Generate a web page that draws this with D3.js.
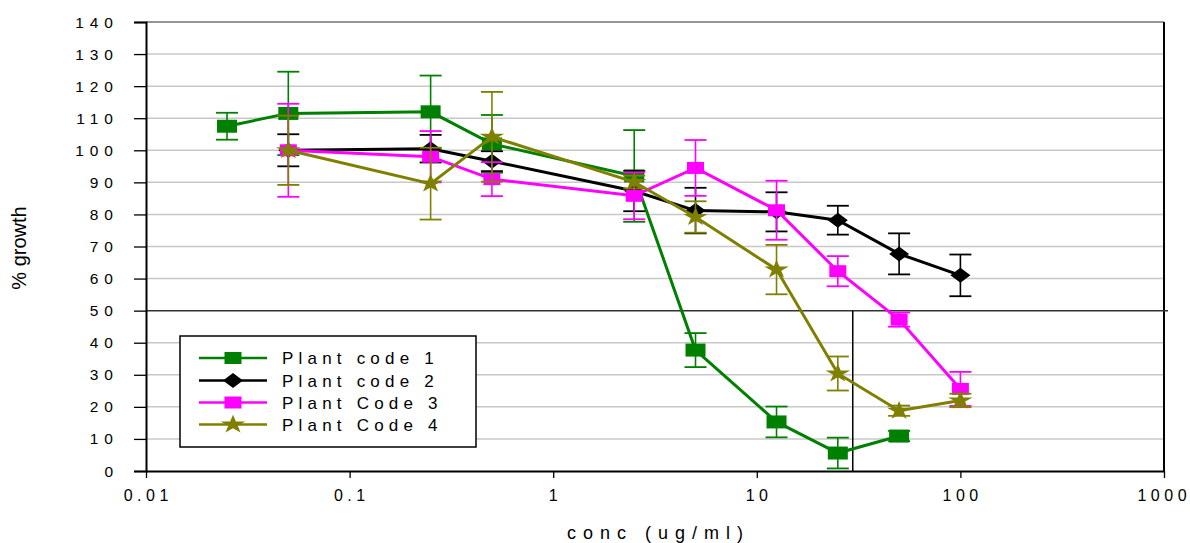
<!DOCTYPE html>
<html><head><meta charset="utf-8">
<script src="https://cdn.jsdelivr.net/npm/d3@7"></script>
<style>
body{margin:0;background:#fff}
text{font-family:"Liberation Sans",Arial,sans-serif;fill:#000}
</style>
</head><body>
<svg id="c" width="1190" height="543"></svg>
<script>
// ---- data ----
const conc = [0.025, 0.05, 0.25, 0.5, 2.5, 5, 12.5, 25, 50, 100];
const seriesNames = ["Plant code 1", "Plant code 2", "Plant Code 3", "Plant Code 4"];
const code1 = [107.5, 111.5, 112, 102, 92, 37.7, 15.3, 5.6, 10.9, null];
const err1  = [4.2, 13, 11.3, 9, 14.3, 5.3, 4.8, 4.8, 1.6, null];
const code2 = [null, 100, 100.5, 96.6, 87.3, 81.2, 80.8, 78.2, 67.7, 61];
const err2  = [null, 5, 4.3, 3.1, 6.3, 7.1, 6.1, 4.5, 6.4, 6.5];
const code3 = [null, 100, 98, 91, 85.8, 94.5, 81.3, 62.3, 47.2, 25.6];
const err3  = [null, 14.5, 8, 5.3, 7.3, 8.7, 9.2, 4.7, 2.2, 5.3];
const code4 = [null, 100, 89.6, 104.2, 90.1, 79.2, 62.8, 30.4, 18.8, 22];
const err4  = [null, 10.8, 11.2, 14, 2, 4.9, 7.7, 5.3, 1.6, 2.1];
const xTicks = [0.01, 0.1, 1, 10, 100, 1000];
const xTickLabels = ["0.01", "0.1", "1", "10", "100", "1000"];
const yTicks = [0, 10, 20, 30, 40, 50, 60, 70, 80, 90, 100, 110, 120, 130, 140];
const refLevel = 50;      // 50% growth line
const refConc = 29.6;     // vertical drop line
const xTitle = "conc (ug/ml)";
const yTitle = "% growth";

const colors = ["#008000", "#000000", "#ff00ff", "#808000"];
const shapes = ["square", "diamond", "square", "star"];
const values = [code1, code2, code3, code4];
const errs = [err1, err2, err3, err4];

// ---- layout ----
const svg = d3.select("#c");
const L = 146, R = 1164, T = 22, B = 471;
const x = d3.scaleLog().domain([0.01, 1000]).range([L, R]);
const y = d3.scaleLinear().domain([0, 140]).range([B, T]);

// gridlines
svg.append("g").selectAll("line").data(yTicks.filter(d => d > 0 && d !== refLevel))
  .join("line").attr("x1", L).attr("x2", R).attr("y1", d => y(d)).attr("y2", d => y(d))
  .attr("stroke", "#c8c8c8").attr("stroke-width", 1.5);
// top border
svg.append("line").attr("x1", L).attr("x2", R).attr("y1", T).attr("y2", T)
  .attr("stroke", "#555").attr("stroke-width", 1.2);
// right border
svg.append("line").attr("x1", R).attr("x2", R).attr("y1", T).attr("y2", B)
  .attr("stroke", "#000").attr("stroke-width", 2);

// reference lines
svg.append("line").attr("x1", L).attr("x2", R + 4).attr("y1", y(refLevel)).attr("y2", y(refLevel))
  .attr("stroke", "#333").attr("stroke-width", 1.5);
svg.append("line").attr("x1", x(refConc)).attr("x2", x(refConc)).attr("y1", y(refLevel)).attr("y2", y(0))
  .attr("stroke", "#000").attr("stroke-width", 1.5);

// axes
const yAxis = svg.append("g").attr("transform", `translate(${L},0)`)
  .call(d3.axisLeft(y).tickValues(yTicks).tickSize(12).tickFormat(""));
yAxis.select(".domain").attr("stroke", "#000").attr("stroke-width", 2);
yAxis.selectAll(".tick line").attr("stroke", "#000").attr("stroke-width", 1.3);

const xAxis = svg.append("g").attr("transform", `translate(0,${B})`)
  .call(d3.axisBottom(x).tickValues(xTicks).tickSize(7).tickSizeOuter(0).tickFormat(""));
xAxis.select(".domain").attr("stroke", "#000").attr("stroke-width", 2);
xAxis.selectAll(".tick line").attr("stroke", "#000").attr("stroke-width", 1.3);

const LS = 6, LSX = 4.5;
svg.append("g").selectAll("text").data(yTicks).join("text")
  .attr("x", 113 + LS).attr("y", d => y(d) + 5.5)
  .attr("text-anchor", "end").style("font-size", "15.5px").style("letter-spacing", LS + "px")
  .text(d => String(d));
svg.append("g").selectAll("text").data(xTicks).join("text")
  .attr("x", (d, i) => x(d) + LSX / 2 - (i === xTicks.length - 1 ? 2 : 0)).attr("y", 501)
  .attr("text-anchor", "middle").style("font-size", "16px").style("letter-spacing", LSX + "px")
  .text((d, i) => xTickLabels[i]);

svg.append("text").attr("x", 655 + 3.5).attr("y", 539).attr("text-anchor", "middle")
  .style("font-size", "18px").style("letter-spacing", "7px").text(xTitle);
svg.append("text").attr("transform", "translate(26,248) rotate(-90)").attr("text-anchor", "middle")
  .style("font-size", "20px").text(yTitle);

// markers
function marker(g, shape, color, cx, cy, small) {
  if (shape === "square") {
    const w = small ? 17 : 20, h = small ? 12 : 13;
    g.append("rect").attr("x", cx - w / 2).attr("y", cy - h / 2).attr("width", w).attr("height", h).attr("fill", color);
  } else if (shape === "diamond") {
    g.append("path").attr("d", `M${cx - 10},${cy}L${cx},${cy - 7.5}L${cx + 10},${cy}L${cx},${cy + 7.5}Z`).attr("fill", color);
  } else {
    g.append("path").attr("d", d3.symbol(d3.symbolStar, 120)())
      .attr("transform", `translate(${cx},${cy}) scale(1.25,0.95)`).attr("fill", color);
  }
}

values.forEach((vals, si) => {
  const g = svg.append("g");
  const col = colors[si];
  const pts = conc.map((c, i) => ({c, v: vals[i], e: errs[si][i]})).filter(p => p.v !== null);
  // error bars
  pts.forEach(p => {
    const y1 = y(Math.max(0, p.v - p.e)), y2 = y(p.v + p.e), cx = x(p.c);
    g.append("line").attr("x1", cx).attr("x2", cx).attr("y1", y1).attr("y2", y2).attr("stroke", col).attr("stroke-width", 1.6);
    [y1, y2].forEach(yy => g.append("line").attr("x1", cx - 11).attr("x2", cx + 11).attr("y1", yy).attr("y2", yy)
      .attr("stroke", col).attr("stroke-width", 1.8));
  });
  g.append("path").datum(pts).attr("fill", "none").attr("stroke", col).attr("stroke-width", 3)
    .attr("d", d3.line().x(p => x(p.c)).y(p => y(p.v)));
  pts.forEach(p => marker(g, shapes[si], col, x(p.c), y(p.v), si === 2));
});

// legend
const lg = svg.append("g");
lg.append("rect").attr("x", 180).attr("y", 336).attr("width", 296).attr("height", 111)
  .attr("fill", "#fff").attr("stroke", "#000").attr("stroke-width", 1.5);
const rowY = [358, 380.5, 402.5, 424.5];
seriesNames.forEach((n, i) => {
  lg.append("line").attr("x1", 199).attr("x2", 267).attr("y1", rowY[i]).attr("y2", rowY[i])
    .attr("stroke", colors[i]).attr("stroke-width", 2.5);
  marker(lg, shapes[i], colors[i], 233, rowY[i], true);
  lg.append("text").attr("x", 282).attr("y", rowY[i] + 6).style("font-size", "17px")
    .style("letter-spacing", "5.2px").text(n);
});
</script>
</body></html>
